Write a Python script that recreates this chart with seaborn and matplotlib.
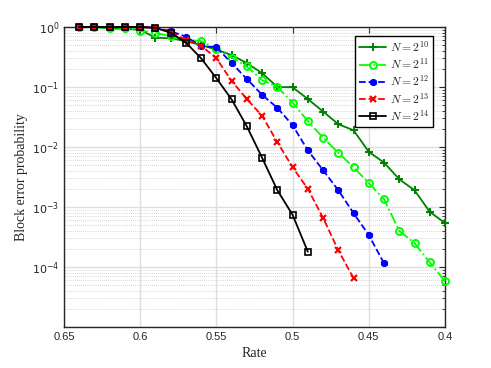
import numpy as np
import pandas as pd
import matplotlib
matplotlib.use("Agg")
import matplotlib.pyplot as plt
import seaborn as sns
from matplotlib.font_manager import FontProperties
from matplotlib.ticker import LogLocator, FixedLocator, FuncFormatter, NullLocator

# ---- data ----
rate_10 = [0.64, 0.63, 0.62, 0.61, 0.60, 0.59, 0.58, 0.57, 0.56, 0.55, 0.54, 0.53, 0.52, 0.51,
           0.50, 0.49, 0.48, 0.47, 0.46, 0.45, 0.44, 0.43, 0.42, 0.41, 0.40]
bler_10 = [1.0, 1.0, 0.95, 0.93, 0.90, 0.66, 0.65, 0.58, 0.50, 0.42, 0.34, 0.25, 0.17, 0.10,
           0.099, 0.063, 0.039, 0.024, 0.019, 0.0083, 0.0055, 0.0029, 0.0019, 0.00083, 0.00054]

rate_11 = [0.64, 0.63, 0.62, 0.61, 0.60, 0.59, 0.58, 0.57, 0.56, 0.55, 0.54, 0.53, 0.52, 0.51,
           0.50, 0.49, 0.48, 0.47, 0.46, 0.45, 0.44, 0.43, 0.42, 0.41, 0.40]
bler_11 = [1.0, 1.0, 0.98, 0.97, 0.87, 0.80, 0.70, 0.62, 0.58, 0.43, 0.31, 0.22, 0.13, 0.10,
           0.055, 0.027, 0.0143, 0.0080, 0.0046, 0.0025, 0.00134, 0.00040, 0.00025, 0.000119, 0.000058]

rate_12 = [0.64, 0.63, 0.62, 0.61, 0.60, 0.59, 0.58, 0.57, 0.56, 0.55, 0.54, 0.53, 0.52, 0.51,
           0.50, 0.49, 0.48, 0.47, 0.46, 0.45, 0.44]
bler_12 = [1.0, 1.0, 1.0, 1.0, 1.0, 0.97, 0.85, 0.69, 0.48, 0.46, 0.25, 0.136, 0.074, 0.045,
           0.023, 0.0088, 0.0041, 0.0019, 0.00079, 0.00034, 0.000115]

rate_13 = [0.64, 0.63, 0.62, 0.61, 0.60, 0.59, 0.58, 0.57, 0.56, 0.55, 0.54, 0.53, 0.52, 0.51,
           0.50, 0.49, 0.48, 0.47, 0.46]
bler_13 = [1.0, 1.0, 1.0, 1.0, 1.0, 0.97, 0.83, 0.60, 0.49, 0.30, 0.126, 0.063, 0.033, 0.012,
           0.0046, 0.0020, 0.00066, 0.00019, 0.000065]

rate_14 = [0.64, 0.63, 0.62, 0.61, 0.60, 0.59, 0.58, 0.57, 0.56, 0.55, 0.54, 0.53, 0.52, 0.51,
           0.50, 0.49]
bler_14 = [1.0, 1.0, 1.0, 1.0, 1.0, 0.97, 0.80, 0.55, 0.30, 0.14, 0.062, 0.022, 0.0066, 0.0019,
           0.00074, 0.00018]

labels = [r"$N=2^{10}$", r"$N=2^{11}$", r"$N=2^{12}$", r"$N=2^{13}$", r"$N=2^{14}$"]
x_ticks = [0.65, 0.6, 0.55, 0.5, 0.45, 0.4]
x_tick_labels = ["0.65", "0.6", "0.55", "0.5", "0.45", "0.4"]

# ---- styling ----
sns.set_style("white")
plt.rcParams["font.family"] = ["Liberation Sans", "DejaVu Sans"]

fig = plt.figure(figsize=(4.91, 3.68), dpi=100)
ax = fig.add_axes([64 / 491, 1 - 327 / 368, 381 / 491, 300 / 368])

series = [
    (rate_10, bler_10, dict(color="#008000", linestyle="-", marker="+", markersize=5.5,
                            markerfacecolor="#008000", markeredgecolor="#008000", markeredgewidth=1.4)),
    (rate_11, bler_11, dict(color="#00ff00", linestyle="-.", marker="o", markersize=5,
                            markerfacecolor="none", markeredgecolor="#00ff00", markeredgewidth=1.4)),
    (rate_12, bler_12, dict(color="#0000ff", linestyle="--", marker=(6, 2, 0), markersize=5,
                            markerfacecolor="#0000ff", markeredgecolor="#0000ff", markeredgewidth=2.0)),
    (rate_13, bler_13, dict(color="#ff0000", linestyle="--", marker="x", markersize=5,
                            markerfacecolor="#ff0000", markeredgecolor="#ff0000", markeredgewidth=1.6)),
    (rate_14, bler_14, dict(color="#000000", linestyle="-", marker="s", markersize=4.5,
                            markerfacecolor="none", markeredgecolor="#000000", markeredgewidth=1.2)),
]

for (xr, yb, kw), lab in zip(series, labels):
    df = pd.DataFrame({"Rate": xr, "BLER": yb})
    sns.lineplot(data=df, x="Rate", y="BLER", ax=ax, label=lab, linewidth=1.3,
                 clip_on=False, zorder=3, **kw)

ax.set_yscale("log")
ax.set_xlim(0.65, 0.4)
ax.set_ylim(1e-5, 1)

ax.xaxis.set_major_locator(FixedLocator(x_ticks))
ax.set_xticklabels(x_tick_labels)
ax.xaxis.set_minor_locator(NullLocator())
ax.yaxis.set_major_locator(LogLocator(base=10, numticks=10))
ax.yaxis.set_minor_locator(LogLocator(base=10, subs=np.arange(2, 10), numticks=20))

def yfmt(v, pos):
    e = int(round(np.log10(v)))
    if e < -4:
        return ""
    return r"$10^{%d}$" % e
ax.yaxis.set_major_formatter(FuncFormatter(yfmt))

ax.grid(True, which="major", color="#dedede", linewidth=1.0, linestyle="-", zorder=0)
ax.grid(True, which="minor", axis="y", color="#c8c8c8", linewidth=0.6, linestyle=(0, (1, 1.5)), zorder=0)
ax.set_axisbelow(True)

ax.tick_params(which="both", direction="in", top=True, right=True, labelsize=8, colors="#262626",
               labelcolor="#262626")
ax.tick_params(which="major", length=4, width=0.8)
ax.tick_params(which="minor", length=2.5, width=0.6)
for lab in ax.get_yticklabels():
    lab.set_math_fontfamily("dejavusans")

for sp in ax.spines.values():
    sp.set_color("#262626")
    sp.set_linewidth(1.0)

ax.set_xlabel("Rate", fontfamily="Liberation Serif", fontsize=10, color="#262626", labelpad=4)
ax.set_ylabel("Block error probability", fontfamily="Liberation Serif", fontsize=10, color="#262626",
              labelpad=3)

leg_font = FontProperties(family="DejaVu Serif", size=8.5, math_fontfamily="cm")
leg = ax.legend(loc="upper right", bbox_to_anchor=(369 / 381, (327 - 36) / 300), prop=leg_font,
                frameon=True, fancybox=False, framealpha=1, edgecolor="black",
                handlelength=2.3, handletextpad=0.35, borderpad=0.3, labelspacing=0.2,
                borderaxespad=0.0)
leg.get_frame().set_linewidth(1.0)

fig.savefig("out.png", dpi=100)
